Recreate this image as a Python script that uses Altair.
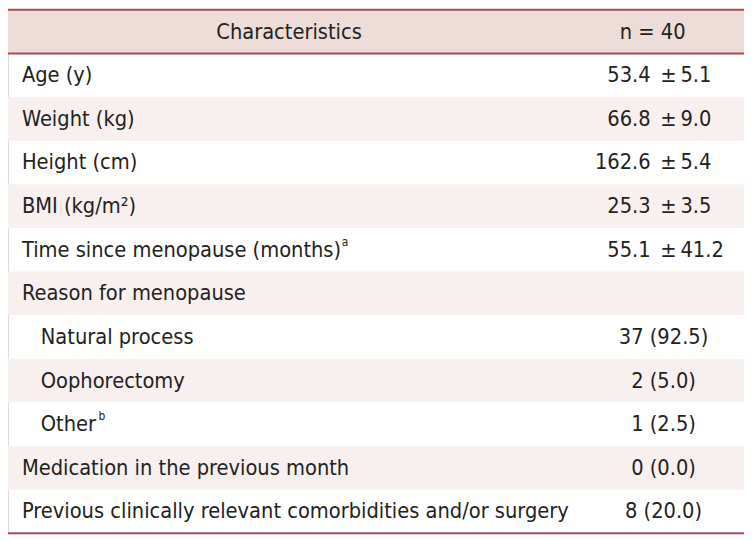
import altair as alt
import pandas as pd

# ---- data ----
labels = [
    "Age (y)",
    "Weight (kg)",
    "Height (cm)",
    "BMI (kg/m²)",
    "Time since menopause (months)",
    "Reason for menopause",
    "Natural process",
    "Oophorectomy",
    "Other",
    "Medication in the previous month",
    "Previous clinically relevant comorbidities and/or surgery",
]
superscripts = ["", "", "", "", "a", "", "", "", "b", "", ""]
indent = [0, 0, 0, 0, 0, 0, 1, 1, 1, 0, 0]
mean_part = ["53.4", "66.8", "162.6", "25.3", "55.1", "", "", "", "", "", ""]
sd_part = ["5.1", "9.0", "5.4", "3.5", "41.2", "", "", "", "", "", ""]
count_part = ["", "", "", "", "", "", "37 (92.5)", "2 (5.0)", "1 (2.5)", "0 (0.0)", "8 (20.0)"]
header_left = "Characteristics"
header_right = "n = 40"

# ---- layout / style ----
FONT = "DejaVu Sans Condensed, sans-serif"
FS = 21.8
W, H = 741, 527
BORDER = "#a94a5c"
HEAD_BG = "#eddcd8"
STRIPE = "#f8f0ef"
TEXT = "#222222"
SUP_X = {"a": 336, "b": 91}   # horizontal anchor of superscripts (chart px)

rows = pd.DataFrame({
    "row": list(range(1, len(labels) + 1)),
    "label": labels,
    "sup": superscripts,
    "indent": indent,
    "mean": mean_part,
    "sd": sd_part,
    "count": count_part,
})
rows["y0"] = rows["row"]
rows["y1"] = rows["row"] + 1
rows["yc"] = rows["row"] + 0.5
rows["lx"] = rows["indent"].map({0: 14, 1: 33})
rows["sx"] = rows["sup"].map(lambda s: SUP_X.get(s, 0))
rows["shade"] = rows["row"] % 2 == 0

yscale = alt.Scale(domain=[0, 12], reverse=True)
xscale = alt.Scale(domain=[0, W])
Y = alt.Y("yc:Q", scale=yscale, axis=None)

base = alt.Chart(rows)

stripes = base.transform_filter("datum.shade").mark_rect(color=STRIPE).encode(
    x=alt.value(0), x2=alt.value(W),
    y=alt.Y("y0:Q", scale=yscale, axis=None),
    y2="y1:Q",
)

header_df = pd.DataFrame({"y0": [0], "y1": [1], "yc": [0.5],
                          "hl": [header_left], "hr": [header_right],
                          "xl": [283], "xr": [649]})
hbase = alt.Chart(header_df)
header_bg = hbase.mark_rect(color=HEAD_BG).encode(
    x=alt.value(0), x2=alt.value(W),
    y=alt.Y("y0:Q", scale=yscale, axis=None), y2="y1:Q",
)
txt = dict(font=FONT, fontSize=FS, color=TEXT, baseline="middle")
header_l = hbase.mark_text(align="center", **txt).encode(
    x=alt.X("xl:Q", scale=xscale, axis=None), y=Y, text="hl:N",
)
header_r = hbase.mark_text(align="center", **txt).encode(
    x=alt.X("xr:Q", scale=xscale, axis=None), y=Y, text="hr:N",
)

lines_df = pd.DataFrame({"yl": [0, 1, 12]})
lines = alt.Chart(lines_df).mark_rule(color=BORDER, strokeWidth=2).encode(
    x=alt.value(0), x2=alt.value(W),
    y=alt.Y("yl:Q", scale=yscale, axis=None),
)

lbl = base.mark_text(align="left", **txt).encode(
    x=alt.X("lx:Q", scale=xscale, axis=None), y=Y, text="label:N",
)
sup_t = base.transform_filter("datum.sup != ''").mark_text(
    align="left", baseline="middle", font=FONT, fontSize=12, color=TEXT, dy=-8
).encode(
    x=alt.X("sx:Q", scale=xscale, axis=None), y=Y, text="sup:N",
)

mean_t = base.transform_filter("datum.mean != ''").transform_calculate(px="647").mark_text(align="right", **txt).encode(
    x=alt.X("px:Q", scale=xscale, axis=None), y=Y, text="mean:N",
)
pm_t = base.transform_filter("datum.mean != ''").transform_calculate(px="665", pm="'±'").mark_text(align="center", **txt).encode(
    x=alt.X("px:Q", scale=xscale, axis=None), y=Y, text="pm:N",
)
sd_t = base.transform_filter("datum.sd != ''").transform_calculate(px="677").mark_text(align="left", **txt).encode(
    x=alt.X("px:Q", scale=xscale, axis=None), y=Y, text="sd:N",
)
cnt_t = base.transform_filter("datum.count != ''").transform_calculate(px="660").mark_text(align="center", **txt).encode(
    x=alt.X("px:Q", scale=xscale, axis=None), y=Y, text="count:N",
)

chart = alt.layer(
    header_bg, stripes, lines, header_l, header_r, lbl, sup_t, mean_t, pm_t, sd_t, cnt_t
).properties(
    width=W, height=H, padding=0, autosize=alt.AutoSizeParams(type="none")
).configure_view(stroke=None).configure(background="white")

chart.save("out.html", embed_options={"renderer": "svg", "actions": False})
